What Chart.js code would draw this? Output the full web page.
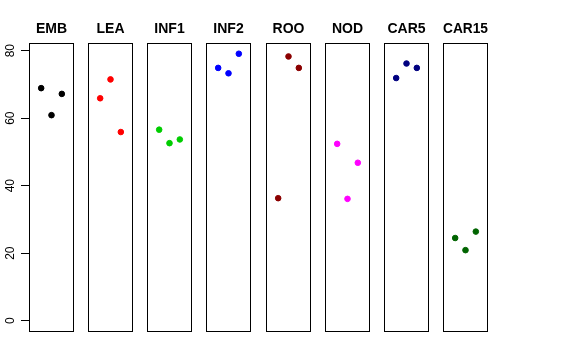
<!DOCTYPE html>
<html>
<head>
<meta charset="utf-8">
<script src="https://cdn.jsdelivr.net/npm/chart.js@4/dist/chart.umd.min.js"></script>
<style>
  body { margin: 0; background: #fff; }
  #wrap { position: relative; width: 576px; height: 360px; overflow: hidden; }
  #wrap canvas { position: absolute; top: 0; }
</style>
</head>
<body>
<div id="wrap"></div>
<script>
// groups shown as panels
const categories = ['EMB', 'LEA', 'INF1', 'INF2', 'ROO', 'NOD', 'CAR5', 'CAR15'];
const reps = [1, 2, 3];

// values per group
const emb   = [68.9, 60.9, 67.2];
const lea   = [65.9, 71.5, 55.9];
const inf1  = [56.6, 52.6, 53.7];
const inf2  = [74.9, 73.3, 79.1];
const roo   = [36.3, 78.3, 74.9];
const nod   = [52.4, 36.1, 46.8];
const car5  = [71.9, 76.2, 74.9];
const car15 = [24.5, 20.9, 26.4];

const yTicks = [0, 20, 40, 60, 80];

const series = [emb, lea, inf1, inf2, roo, nod, car5, car15];
const colors = ['#000000', '#ff0000', '#00cd00', '#0000ff', '#8b0000', '#ff00ff', '#000080', '#006400'];

// box round each panel
const boxPlugin = {
  id: 'box',
  afterDraw(chart) {
    const a = chart.chartArea;
    const ctx = chart.ctx;
    ctx.save();
    ctx.strokeStyle = '#000';
    ctx.lineWidth = 1;
    ctx.strokeRect(a.left + 0.5, a.top + 0.5, a.right - a.left - 1, a.bottom - a.top - 1);
    ctx.restore();
  }
};

const wrap = document.getElementById('wrap');
const axisW = 29;
const panelW = 45;

categories.forEach((name, i) => {
  const first = i === 0;
  const left = Math.round(29 + i * 59.14);
  const canvas = document.createElement('canvas');
  const w = first ? left + panelW : panelW;
  canvas.width = w;
  canvas.height = 332;
  canvas.style.left = (first ? 0 : left) + 'px';
  wrap.appendChild(canvas);

  new Chart(canvas.getContext('2d'), {
    type: 'scatter',
    data: {
      datasets: [{
        data: reps.map((r, k) => ({ x: r, y: series[i][k] })),
        backgroundColor: colors[i],
        borderColor: colors[i],
        pointRadius: 2.8,
        borderWidth: 1
      }]
    },
    plugins: [boxPlugin],
    options: {
      responsive: false,
      animation: false,
      devicePixelRatio: 1,
      layout: { padding: 0, autoPadding: false },
      plugins: {
        legend: { display: false },
        tooltip: { enabled: false },
        title: {
          display: true,
          fullSize: false,
          text: name,
          color: '#000',
          font: { family: 'Liberation Sans, Arial, sans-serif', size: 14, weight: 'bold', lineHeight: 1.2 },
          padding: { top: 20.8, bottom: 5.4 }
        }
      },
      scales: {
        x: { type: 'linear', display: false, min: -0.18, max: 4.18 },
        y: {
          display: first,
          min: -3.35,
          max: 82.28,
          afterFit: s => {
            s.width = first ? axisW : 0;
            s.paddingTop = 0;
            s.paddingBottom = 0;
          },
          afterBuildTicks: s => { s.ticks = yTicks.map(v => ({ value: v })); },
          border: { display: false },
          grid: { drawOnChartArea: false, drawTicks: true, tickLength: 8, tickColor: '#000', color: '#000' },
          ticks: {
            color: '#000',
            font: { family: 'Liberation Sans, Arial, sans-serif', size: 12 },
            minRotation: 90,
            maxRotation: 90,
            crossAlign: 'center',
            padding: 4
          }
        }
      }
    }
  });
});
</script>
</body>
</html>
